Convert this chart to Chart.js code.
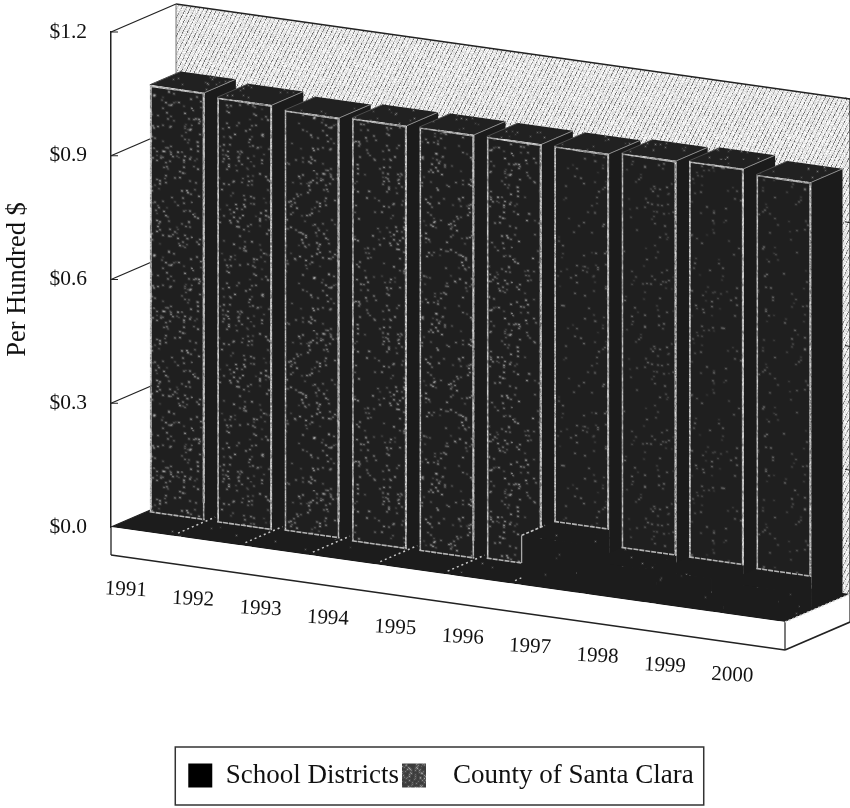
<!DOCTYPE html>
<html>
<head>
    <title>Per Hundred $</title>
    <script src="https://cdn.jsdelivr.net/npm/chart.js"></script>
    <style>
        body { margin: 0; background: #fff; }
    </style>
</head>
<body>
    <canvas id="taxChart" width="850" height="808"></canvas>

    <script>
        const years = ['1991', '1992', '1993', '1994', '1995', '1996', '1997', '1998', '1999', '2000'];
        const schoolDistricts = [0.005, 0.004, 0.007, 0.004, 0.004, 0.008, 0.12, 0.08, 0.08, 0.075];
        const countyOfSantaClara = [1.04, 1.033, 1.025, 1.029, 1.03, 1.03, 1.03, 1.036, 1.04, 1.03];

        const serif = "'Liberation Serif', 'Times New Roman', serif";
        const depthX = 65;      // how far the back wall sits from the front plane
        const depthY = 28;
        const slope = 0.141;    // the whole front plane falls to the right
        const baseHeight = 28;
        const countyDepth = [0.5, 0.98];
        const schoolDepth = [0, 0.5];
        const legendShift = 16; // the legend sits a little right of the page centre

        // small repeatable generator, only used for the print-like grain
        let seed = 12345;
        function grain() {
            seed = (seed + 0x6D2B79F5) | 0;
            let t = Math.imul(seed ^ (seed >>> 15), 1 | seed);
            t = (t + Math.imul(t ^ (t >>> 7), 61 | t)) ^ t;
            return ((t ^ (t >>> 14)) >>> 0) / 4294967296;
        }

        function speckle(base, density, low, high) {
            const c = document.createElement('canvas');
            c.width = 160;
            c.height = 160;
            const g = c.getContext('2d');
            g.fillStyle = base;
            g.fillRect(0, 0, 160, 160);
            for (let y = 0; y < 160; y++) {
                for (let x = 0; x < 160; x++) {
                    if (grain() < density) {
                        const v = Math.round(low + grain() * (high - low));
                        g.fillStyle = 'rgba(' + v + ',' + v + ',' + v + ',0.18)';
                        g.fillRect(x - 1, y - 1, 3, 3);
                        g.fillStyle = 'rgb(' + v + ',' + v + ',' + v + ')';
                        g.fillRect(x, y, 1, 1);
                    }
                }
            }
            return g.createPattern(c, 'repeat');
        }

        function hatch() {
            const c = document.createElement('canvas');
            c.width = 72;
            c.height = 72;
            const g = c.getContext('2d');
            for (let y = 0; y < 72; y++) {
                for (let x = 0; x < 72; x++) {
                    let v = 215 + grain() * 40;
                    if ((2 * x + y) % 9 < 2) v = 100 + grain() * 120;
                    v = Math.round(v);
                    g.fillStyle = 'rgb(' + v + ',' + v + ',' + v + ')';
                    g.fillRect(x, y, 1, 1);
                }
            }
            return g.createPattern(c, 'repeat');
        }

        const frontFill = speckle('#1f1f1f', 0.02, 80, 215);
        const frontFillDim = speckle('#1f1f1f', 0.01, 60, 150);
        const edgeFill = speckle('#6a6a6a', 0.4, 170, 240);
        const topFill = speckle('#212121', 0.012, 60, 130);
        const floorFill = speckle('#1c1c1c', 0.002, 60, 120);
        const swatchFill = speckle('#3c3c3c', 0.12, 100, 170);
        const wallFill = hatch();

        function polygon(ctx, points, fill) {
            ctx.beginPath();
            points.forEach((p, i) => i ? ctx.lineTo(p[0], p[1]) : ctx.moveTo(p[0], p[1]));
            ctx.closePath();
            ctx.fillStyle = fill;
            ctx.fill();
        }

        function line(ctx, a, b, color, width, dash) {
            ctx.save();
            ctx.beginPath();
            ctx.moveTo(a[0], a[1]);
            ctx.lineTo(b[0], b[1]);
            ctx.strokeStyle = color;
            ctx.lineWidth = width;
            ctx.setLineDash(dash || []);
            ctx.stroke();
            ctx.restore();
        }

        const oblique = {
            id: 'oblique',
            afterLayout(chart) {
                chart.legend.left += legendShift;
                chart.legend.right += legendShift;
            },
            beforeDatasetsDraw(chart) {
                const ctx = chart.ctx;
                const area = chart.chartArea;
                const yScale = chart.scales.y;

                // front plane point pushed back by t of the depth
                const pt = (x, y, t) => [x + depthX * t, y + slope * (x - area.left) - depthY * t];

                // back wall, floor, base
                polygon(ctx, [pt(area.left, area.top, 1), pt(area.right, area.top, 1), pt(area.right, area.bottom, 1), pt(area.left, area.bottom, 1)], wallFill);
                line(ctx, pt(area.left, area.top, 1), pt(area.right, area.top, 1), '#222', 1.6);
                line(ctx, pt(area.left, area.top, 1), pt(area.left, area.bottom, 1), '#777', 1);
                line(ctx, pt(area.right, area.top, 1), pt(area.right, area.bottom, 1), '#222', 1.2);
                polygon(ctx, [pt(area.left, area.bottom, 0), pt(area.right, area.bottom, 0), pt(area.right, area.bottom, 1), pt(area.left, area.bottom, 1)], floorFill);

                yScale.ticks.forEach(tick => {
                    const y = yScale.getPixelForValue(tick.value);
                    line(ctx, pt(area.left, y, 0), pt(area.left, y, 1), '#222', 1.3);
                    line(ctx, [area.left, y], [area.left + 7, y], '#222', 1);
                    if (tick.value > 0) {
                        const end = pt(area.right, y, 1);
                        line(ctx, [end[0] - 5, end[1] - 1], end, '#222', 1.2);
                    }
                });

                const county = chart.getDatasetMeta(1).data;
                const school = chart.getDatasetMeta(0).data;
                const base = area.bottom;

                county.forEach(bar => {
                    const left = bar.x - bar.width / 2;
                    const right = bar.x + bar.width / 2;
                    const near = countyDepth[0];
                    const far = countyDepth[1];
                    polygon(ctx, [pt(right, bar.y, near), pt(right, bar.y, far), pt(right, base, far), pt(right, base, near)], '#1b1b1b');
                    polygon(ctx, [pt(left, bar.y, near), pt(right, bar.y, near), pt(right, bar.y, far), pt(left, bar.y, far)], topFill);
                    line(ctx, pt(right, bar.y, near), pt(right, bar.y, far), '#8a8a8a', 1);
                    line(ctx, pt(left, bar.y, near), pt(left, bar.y, far), '#4c4c4c', 1);
                    ctx.save();
                    ctx.transform(1, slope, 0, 1, depthX * near, -slope * area.left - depthY * near);
                    bar.draw(ctx);
                    ctx.restore();
                });

                const values = chart.data.datasets[0].data;
                school.forEach((bar, i) => {
                    const left = bar.x - bar.width / 2;
                    const right = bar.x + bar.width / 2;
                    const near = schoolDepth[0];
                    const far = schoolDepth[1];
                    polygon(ctx, [pt(right, bar.y, near), pt(right, bar.y, far), pt(right, base, far), pt(right, base, near)], floorFill);
                    polygon(ctx, [pt(left, bar.y, near), pt(right, bar.y, near), pt(right, bar.y, far), pt(left, bar.y, far)], floorFill);
                    ctx.save();
                    ctx.transform(1, slope, 0, 1, 0, -slope * area.left);
                    bar.draw(ctx);
                    ctx.restore();

                    // foot of the county bar, where it meets this school bar
                    line(ctx, pt(left, bar.y, far), pt(right, bar.y, far), '#b4b4b4', 1.6, [5, 1]);

                    if (values[i] < 0.02) {
                        // dotted edge on the floor between the years
                        line(ctx, pt(right, base, 0.09), pt(right, base, 0.66), '#c8c8c8', 1.5, [2, 3]);
                    } else if (i > 0 && values[i] > values[i - 1] * 3) {
                        // a tall front bar shows its edge against the bar behind
                        const prevY = school[i - 1].y + slope * (left - depthX * far - area.left) - depthY * far;
                        line(ctx, pt(left, bar.y, 0), pt(left, bar.y, 0.36), '#c8c8c8', 1.5, [3, 2]);
                        line(ctx, pt(left, bar.y, 0), [left, prevY], '#a8a8a8', 1.3);
                    }
                });

                // white base under the floor
                const frontTopL = pt(area.left, area.bottom, 0);
                const frontTopR = pt(area.right, area.bottom, 0);
                const backTopR = pt(area.right, area.bottom, 1);
                const drop = p => [p[0], p[1] + baseHeight];
                polygon(ctx, [frontTopL, frontTopR, drop(frontTopR), drop(frontTopL)], '#ffffff');
                polygon(ctx, [frontTopR, backTopR, drop(backTopR), drop(frontTopR)], '#ffffff');
                line(ctx, frontTopL, drop(frontTopL), '#222', 1.3);
                line(ctx, drop(frontTopL), drop(frontTopR), '#222', 1.6);
                line(ctx, frontTopR, drop(frontTopR), '#222', 1.2);
                line(ctx, drop(frontTopR), drop(backTopR), '#222', 1.6);
                line(ctx, backTopR, drop(backTopR), '#222', 1.2);
                line(ctx, frontTopR, backTopR, '#d0d0d0', 1.5, [2, 2]);

                // year labels follow the slope of the front edge
                const xScale = chart.scales.x;
                ctx.save();
                ctx.font = '21px ' + serif;
                ctx.fillStyle = '#111';
                ctx.textAlign = 'center';
                ctx.textBaseline = 'middle';
                xScale.ticks.forEach((tick, i) => {
                    const x = xScale.getPixelForTick(i);
                    ctx.save();
                    ctx.translate(x - 19, area.bottom + slope * (x - area.left) + 58);
                    ctx.rotate(3 * Math.PI / 180);
                    ctx.fillText(xScale.getLabelForValue(tick.value), 0, 0);
                    ctx.restore();
                });
                ctx.restore();
                return false;
            },
            afterDraw(chart) {
                const boxes = chart.legend.legendHitBoxes;
                const first = boxes[0];
                const last = boxes[boxes.length - 1];
                const ctx = chart.ctx;
                ctx.save();
                ctx.strokeStyle = '#333';
                ctx.lineWidth = 1.5;
                ctx.strokeRect(first.left - 13, first.top - 15, last.left + last.width - first.left + 23, 58);
                ctx.restore();
            }
        };

        const yearFills = years.map((y, i) => i < 6 ? frontFill : frontFillDim);

        const chart = new Chart(document.getElementById('taxChart').getContext('2d'), {
            type: 'bar',
            plugins: [oblique],
            data: {
                labels: years,
                datasets: [{
                    label: 'School Districts',
                    data: schoolDistricts,
                    backgroundColor: floorFill,
                    borderWidth: 0,
                    grouped: false
                }, {
                    label: 'County of Santa Clara',
                    data: countyOfSantaClara,
                    backgroundColor: yearFills,
                    borderColor: edgeFill,
                    borderWidth: 2,
                    borderSkipped: false,
                    grouped: false
                }]
            },
            options: {
                responsive: false,
                animation: false,
                barPercentage: 0.816,
                categoryPercentage: 1,
                layout: {
                    padding: { top: 32, right: 0, left: 0, bottom: 9 }
                },
                plugins: {
                    tooltip: { enabled: false },
                    legend: {
                        position: 'bottom',
                        labels: {
                            boxWidth: 24,
                            boxHeight: 24,
                            padding: 3,
                            color: '#111',
                            font: { family: serif, size: 27 },
                            generateLabels(c) {
                                const items = Chart.defaults.plugins.legend.labels.generateLabels(c);
                                items[0].fillStyle = '#000';
                                items[1].fillStyle = swatchFill;
                                items[1].text = '  ' + items[1].text;
                                items.forEach(item => { item.lineWidth = 0; });
                                return items;
                            }
                        }
                    }
                },
                scales: {
                    x: {
                        grid: { display: false },
                        border: { display: false },
                        ticks: { display: false },
                        afterFit(scale) { scale.height = 232; }
                    },
                    y: {
                        min: 0,
                        max: 1.2,
                        grid: { display: false, drawTicks: false },
                        border: { display: true, color: '#222', width: 1.5 },
                        ticks: {
                            stepSize: 0.3,
                            padding: 24,
                            color: '#111',
                            font: { family: serif, size: 21.5 },
                            callback: value => '$' + value.toFixed(1)
                        },
                        title: {
                            display: true,
                            text: 'Per Hundred $',
                            color: '#111',
                            padding: { top: 2, bottom: 0 },
                            font: { family: serif, size: 26.5 }
                        },
                        afterFit(scale) {
                            scale.width = 111;
                            scale.paddingTop = 0;
                            scale.paddingBottom = 0;
                        }
                    },
                    // empty axis that keeps the depth of the box free on the right
                    yDepth: {
                        position: 'right',
                        min: 0,
                        max: 1.2,
                        grid: { display: false, drawTicks: false },
                        border: { display: false },
                        ticks: { display: false },
                        afterFit(scale) { scale.width = 65; }
                    }
                }
            }
        });
    </script>
</body>
</html>
